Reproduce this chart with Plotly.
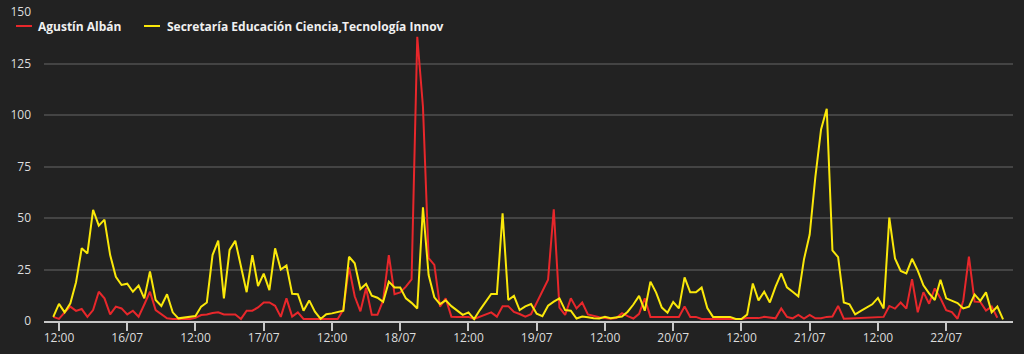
import pandas as pd
import plotly.graph_objects as go

start_time = "2021-07-15 11:00"

agustin = [2, 1, 4.2, 7, 4.9, 5.8, 2, 5.3, 14.2, 11, 3.2, 7, 6.1, 3.2, 5, 2.1, 8, 14.2, 5.3, 3.4,
           1.3, 1, 1, 1, 1, 1.5, 2.9, 3.2, 3.9, 4.2, 3.2, 3.2, 3.2, 1, 5, 5, 6.6, 9, 9, 7.4,
           2, 11, 2.1, 4.2, 1, 1, 1, 1, 1, 1, 1, 5.5, 26, 12, 4.7, 16, 3, 3, 10, 32,
           13, 13.9, 16.7, 20.2, 138, 104, 30.5, 27.2, 7, 11, 2.1, 2, 2, 2, 1, 2, 3.2, 4.2, 2.1, 7.2,
           7.2, 4.4, 3.4, 2.1, 3.3, 8.9, 14.4, 20, 54.2, 6.5, 3, 11, 6.1, 9, 3.2, 2.4, 1.8, 1.4, 1.1, 1.4,
           3.8, 2.4, 1.2, 3.5, 11, 2, 2, 2, 2, 2, 2, 7, 2, 2, 1, 1, 1, 1, 1, 1,
           1, 1, 1.5, 1.3, 1.4, 2, 1.7, 1.3, 6.1, 2, 1.3, 3, 1.2, 3, 1.3, 1.3, 2, 2.2, 7.3, 1.1,
           1.2, 1.3, 1.4, 1.5, 1.7, 1.8, 2, 7.3, 6, 9, 6, 20.3, 4.2, 14, 8.4, 15.8, 11, 5.3, 4.3, 1.1,
           9.8, 31.2, 9.4, 9.2, 5.1, 7, 1.6]

secretaria = [2, 8.3, 4.2, 8.6, 18.8, 35.3, 32.8, 54, 46.3, 49.2, 32, 21.5, 17.5, 18.1, 14.2, 17.2, 11, 24, 10.2, 7.3,
              13, 4.2, 1.3, 1.6, 1.8, 2.4, 7, 9, 32, 39, 11, 34.5, 39, 26.4, 14, 32, 17, 23, 15, 35.3,
              25, 27, 13.2, 13, 5, 10, 4.5, 1, 3.3, 3.7, 4.2, 5, 31.2, 28, 15.5, 18, 12.3, 11.3, 9.3, 19.1,
              16.3, 16.3, 11, 8.8, 6.1, 55.2, 22.3, 11.5, 8.2, 10, 7.2, 5, 3, 4.2, 0.9, 5.3, 9.4, 13.1, 13.1, 52.3,
              10.2, 12.2, 5.3, 7.1, 8.2, 3.5, 2.3, 7.4, 9.4, 11, 5.3, 5, 1.2, 2.2, 1.8, 1.3, 1.2, 2, 1.3, 1.7,
              2.2, 4.5, 8, 12.2, 5, 19.1, 13.8, 6.5, 4, 9.2, 6.1, 21.2, 13.9, 13.9, 16.2, 6.3, 2, 2, 2, 2,
              1, 1, 3.1, 18.2, 10, 14.2, 9, 16.7, 23.1, 16.3, 14.2, 12, 30, 42, 70, 93, 103, 34.3, 31, 9,
              8.1, 3.2, 4.9, 6.5, 8.1, 11.2, 6.1, 50.2, 30.4, 24.3, 23.1, 30.2, 24.5, 17.3, 13.4, 10.2, 20, 11, 9.8, 8.7,
              6.1, 7, 12.9, 9.8, 13.9, 4.2, 7, 0.8]

series_names = ["Agustín Albán", "Secretaría Educación Ciencia,Tecnología Innov"]
series_colors = ["#e8272b", "#fae80a"]

tick_vals = ["2021-07-15 12:00", "2021-07-16 00:00", "2021-07-16 12:00", "2021-07-17 00:00",
             "2021-07-17 12:00", "2021-07-18 00:00", "2021-07-18 12:00", "2021-07-19 00:00",
             "2021-07-19 12:00", "2021-07-20 00:00", "2021-07-20 12:00", "2021-07-21 00:00",
             "2021-07-21 12:00", "2021-07-22 00:00"]
tick_text = ["12:00", "16/07", "12:00", "17/07", "12:00", "18/07", "12:00", "19/07",
             "12:00", "20/07", "12:00", "21/07", "12:00", "22/07"]
y_ticks = [0, 25, 50, 75, 100, 125, 150]

times = pd.date_range(start_time, periods=len(secretaria), freq="h")

fig = go.Figure()
fig.add_trace(go.Scatter(x=times[:len(agustin)], y=agustin, mode="lines", name=series_names[0],
                         line=dict(color=series_colors[0], width=2), showlegend=False))
fig.add_trace(go.Scatter(x=times, y=secretaria, mode="lines", name=series_names[1],
                         line=dict(color=series_colors[1], width=2), showlegend=False))

W, H = 1024, 354
L, R, T, B = 44, 11, 12, 33
pw, ph = W - L - R, H - T - B


def px_x(p):
    return (p - L) / pw


def px_y(p):
    return (H - B - p) / ph


# manual legend
legend_items = [(16, 32, 37), (144, 160, 166)]
for (x0, x1, tx), name, col in zip(legend_items, series_names, series_colors):
    fig.add_shape(type="line", xref="paper", yref="paper", x0=px_x(x0), x1=px_x(x1),
                  y0=px_y(26), y1=px_y(26), line=dict(color=col, width=2))
    fig.add_annotation(xref="paper", yref="paper", x=px_x(tx), y=px_y(26), text="<b>%s</b>" % name,
                       showarrow=False, xanchor="left", yanchor="middle", xshift=-1,
                       font=dict(family="Open Sans", size=12, color="#f0f0f0"))

fig.update_layout(
    width=W, height=H,
    margin=dict(l=L, r=R, t=T, b=B, autoexpand=False),
    paper_bgcolor="#222222", plot_bgcolor="#222222",
    font=dict(family="Open Sans", size=12, color="#dddddd"),
    xaxis=dict(range=["2021-07-15 09:22", "2021-07-22 11:45"], tickvals=tick_vals, ticktext=tick_text,
               showgrid=False, zeroline=False, showline=True, linecolor="#c8c8c8", linewidth=2,
               ticks="outside", ticklen=8, tickwidth=1.5, tickcolor="#c8c8c8", automargin=False,
               ticklabelstandoff=-3,
               tickfont=dict(family="Open Sans", size=12, color="#dddddd")),
    yaxis=dict(range=[0, 150], tickvals=y_ticks, showgrid=True, gridcolor="#444444", gridwidth=1.5,
               zeroline=False, showline=False, ticks="", ticklabelstandoff=12, automargin=False,
               tickfont=dict(family="Open Sans", size=12, color="#dddddd")),
)

fig.write_html("out.html")
